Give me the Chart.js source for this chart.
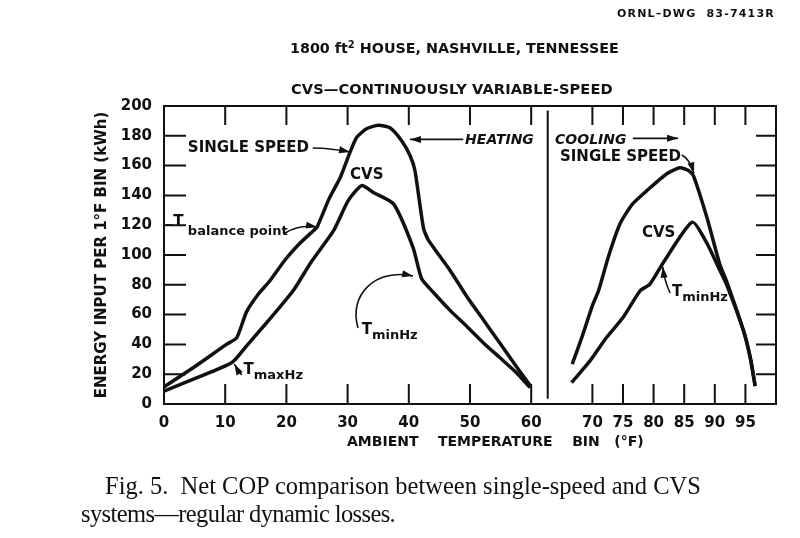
<!DOCTYPE html>
<html>
<head>
<meta charset="utf-8">
<script src="https://cdn.jsdelivr.net/npm/chart.js@4.4.0/dist/chart.umd.min.js"></script>
<style>
  html, body { margin: 0; padding: 0; background: #fff; }
  #wrap { position: relative; width: 800px; height: 538px; overflow: hidden; }
  canvas { position: absolute; left: 0; top: 0; }
  .t { position: absolute; white-space: nowrap; color: #111; }
  .sans { font-family: "DejaVu Sans", sans-serif; font-weight: bold; }
  .serif { font-family: "Liberation Serif", serif; font-size: 24.5px; line-height: 28px; }
  sup { font-size: 70%; line-height: 0; vertical-align: 0.55em; }
</style>
</head>
<body>
<div id="wrap">
  <canvas id="chart" width="800" height="538"></canvas>
  <div class="t sans" style="right:25px; top:7px; font-size:11px; line-height:14px; letter-spacing:1.2px">ORNL–DWG&nbsp;&nbsp;83-7413R</div>
  <div class="t sans" style="left:290px; top:38px; font-size:14.3px; line-height:20px">1800 ft<sup>2</sup> HOUSE, NASHVILLE, TENNESSEE</div>
  <div class="t sans" style="left:291px; top:79px; font-size:14.6px; line-height:20px; letter-spacing:0.1px">CVS—CONTINUOUSLY VARIABLE-SPEED</div>
  <div class="t serif" style="left:105px; top:472px">Fig. 5.&nbsp;&nbsp;Net COP comparison between single-speed and CVS</div>
  <div class="t serif" style="left:81px; top:500px; letter-spacing:-0.6px">systems—regular dynamic losses.</div>
</div>
<script>
// tick labels along the axes
const xTickValues = [0, 10, 20, 30, 40, 50, 60, 70, 75, 80, 85, 90, 95];
const yTickValues = [0, 20, 40, 60, 80, 100, 120, 140, 160, 180, 200];

// heating season, single speed unit
const heatSingleTemp = [0, 5, 10.2, 11.9, 13.5, 15.4, 17.3, 19.8, 22, 24.4, 25, 27, 28.8, 30.4, 31.5, 33.1, 35, 36.9, 38.8, 40.2, 41, 42.4, 43.2, 46.7, 49.5, 52.2, 54.9, 57.6, 59.8];
const heatSingleEnergy = [11.5, 25, 40, 44.6, 62, 73.7, 82.7, 96.8, 107, 116.3, 118.6, 138, 152, 169, 179, 184.7, 187, 185.4, 176.9, 166.8, 156.7, 118, 110, 90, 72, 56.4, 40.7, 25, 12.5];

// heating season, CVS unit
const heatCvsTemp = [0, 5, 11.1, 13.5, 16.8, 21.1, 24, 27.7, 30.1, 32.3, 34.2, 37.5, 40.7, 42.1, 44, 46.7, 49.5, 52.2, 54.9, 57.6, 59.8];
const heatCvsEnergy = [8.7, 17, 27.8, 39, 54.7, 76, 95, 116.3, 136.5, 146.6, 142, 134.3, 105, 84, 75, 63, 52, 41, 31, 21, 11];

// cooling season, single speed unit
const coolSingleTemp = [66.7, 68.3, 70, 71, 72.7, 74.5, 76.5, 78.9, 82.1, 84.3, 85.7, 86.5, 88.7, 90.8, 91.9, 94.7, 95.8, 96.6];
const coolSingleEnergy = [26.7, 45, 66, 76, 100, 120.8, 134, 143.2, 154.4, 158.5, 156.7, 153.3, 125.3, 94, 82.7, 49, 31, 12];

// cooling season, CVS unit
const coolCvsTemp = [66.6, 69.6, 72.3, 75, 77.8, 79.4, 81.6, 86.3, 88.7, 90.8, 91.9, 94.7, 95.8, 96.6];
const coolCvsEnergy = [14.3, 28.9, 44.6, 58, 76, 80.5, 95, 122, 108, 90, 80.5, 49, 31, 12];

const ink = '#111';
const pairs = (xs, ys) => xs.map((x, i) => ({ x: x, y: ys[i] }));
const curve = (label, xs, ys) => ({
  label: label,
  data: pairs(xs, ys),
  borderColor: ink,
  borderWidth: 3.5,
  pointRadius: 0,
  tension: 0.2,
  fill: false
});

// labels and leaders drawn on the plot, placed in data units
const notes = [
  { text: 'SINGLE SPEED', x: 3.9, y: 171.8, size: 15 },
  { text: 'CVS', x: 30.4, y: 153.7, size: 15 },
  { text: 'HEATING', x: 49.2, y: 176.7, size: 14, italic: true },
  { text: 'COOLING', x: 63.9, y: 176.7, size: 14, italic: true },
  { text: 'SINGLE SPEED', x: 64.7, y: 166, size: 15 },
  { text: 'CVS', x: 78.1, y: 115, size: 15 }
];
const subNotes = [
  { main: 'T', sub: 'minHz', x: 83.0, y: 75.4 },
  { main: 'T', sub: 'minHz', x: 32.3, y: 49.7 },
  { main: 'T', sub: 'maxHz', x: 13.0, y: 22.8 },
  { main: 'T', sub: 'balance point', x: 1.5, y: 122.1, subX: 3.9, subY: 115.6 }
];
const arrows = [
  { pts: [[24.3, 171.8], [27.5, 171.6], [30.4, 169.1]] },
  { pts: [[48.9, 177.6], [44.5, 177.6], [40.2, 177.6]] },
  { pts: [[76.6, 178.3], [80.3, 178.3], [84.0, 178.3]] },
  { pts: [[84.6, 167.1], [85.9, 164.5], [86.6, 154.8]] },
  { pts: [[82.7, 74.5], [81.8, 82], [81.5, 92.1]] },
  { pts: [[31.7, 51], [30.1, 73.2], [34.5, 91.3], [40.7, 85.9]] },
  { pts: [[12.7, 19.5], [12.0, 23], [11.5, 26.8]] },
  { pts: [[19.8, 114.8], [22.2, 120.8], [25.0, 118.8]] },
  { pts: [[0.3, 120.1], [0.9, 120.1], [1.45, 120.1]], head: false }
];
const dividerTemp = 62.7;
const xTitle = 'AMBIENT    TEMPERATURE    BIN   (°F)';

const framePlugin = {
  id: 'frame',
  afterDatasetsDraw(chart) {
    const { ctx, chartArea: a, scales: { x, y } } = chart;
    const X = v => x.getPixelForValue(v);
    const Y = v => y.getPixelForValue(v);
    ctx.save();
    ctx.strokeStyle = ink;
    ctx.fillStyle = ink;
    ctx.lineWidth = 2;
    ctx.lineCap = 'butt';
    ctx.strokeRect(a.left, a.top, a.right - a.left, a.bottom - a.top);

    // inward tick marks on all four sides
    ctx.beginPath();
    xTickValues.filter(v => v > 0).forEach(v => {
      ctx.moveTo(X(v), a.bottom); ctx.lineTo(X(v), a.bottom - 20);
      ctx.moveTo(X(v), a.top); ctx.lineTo(X(v), a.top + 19);
    });
    yTickValues.filter(v => v > 0 && v < 200).forEach(v => {
      ctx.moveTo(a.left, Y(v)); ctx.lineTo(a.left + 22, Y(v));
      ctx.moveTo(a.right, Y(v)); ctx.lineTo(a.right - 20, Y(v));
    });
    ctx.stroke();

    // split between heating and cooling
    ctx.beginPath();
    ctx.moveTo(X(dividerTemp), Y(197));
    ctx.lineTo(X(dividerTemp), Y(3.5));
    ctx.stroke();

    // leaders
    ctx.lineWidth = 1.6;
    arrows.forEach(ar => {
      const p = ar.pts.map(q => [X(q[0]), Y(q[1])]);
      ctx.beginPath();
      ctx.moveTo(p[0][0], p[0][1]);
      if (p.length === 4) ctx.bezierCurveTo(p[1][0], p[1][1], p[2][0], p[2][1], p[3][0], p[3][1]);
      else ctx.quadraticCurveTo(p[1][0], p[1][1], p[2][0], p[2][1]);
      ctx.stroke();
      if (ar.head === false) return;
      const e = p[p.length - 1], b = p[p.length - 2];
      const ang = Math.atan2(e[1] - b[1], e[0] - b[0]);
      ctx.beginPath();
      ctx.moveTo(e[0], e[1]);
      ctx.lineTo(e[0] - 11 * Math.cos(ang) + 3.5 * Math.sin(ang), e[1] - 11 * Math.sin(ang) - 3.5 * Math.cos(ang));
      ctx.lineTo(e[0] - 11 * Math.cos(ang) - 3.5 * Math.sin(ang), e[1] - 11 * Math.sin(ang) + 3.5 * Math.cos(ang));
      ctx.closePath();
      ctx.fill();
    });

    // text labels
    ctx.textAlign = 'left';
    ctx.textBaseline = 'middle';
    notes.forEach(n => {
      ctx.font = (n.italic ? 'italic ' : '') + 'bold ' + n.size + 'px "DejaVu Sans", sans-serif';
      ctx.fillText(n.text, X(n.x), Y(n.y));
    });
    subNotes.forEach(n => {
      ctx.font = 'bold 15px "DejaVu Sans", sans-serif';
      ctx.fillText(n.main, X(n.x), Y(n.y));
      const w = ctx.measureText(n.main).width;
      ctx.font = 'bold 13px "DejaVu Sans", sans-serif';
      const sx = n.subX !== undefined ? X(n.subX) : X(n.x) + w;
      const sy = n.subY !== undefined ? Y(n.subY) : Y(n.y) + 6;
      ctx.fillText(n.sub, sx, sy);
    });

    // x axis title sits right of centre in the original
    ctx.font = 'bold 14px "DejaVu Sans", sans-serif';
    ctx.fillText(xTitle, a.left + 183, a.bottom + 38);
    ctx.restore();
  }
};

const tickFont = { family: '"DejaVu Sans", sans-serif', weight: 'bold', size: 15 };
const titleFont = { family: '"DejaVu Sans", sans-serif', weight: 'bold', size: 15 };

new Chart(document.getElementById('chart'), {
  type: 'line',
  data: {
    datasets: [
      curve('Heating, single speed', heatSingleTemp, heatSingleEnergy),
      curve('Heating, CVS', heatCvsTemp, heatCvsEnergy),
      curve('Cooling, single speed', coolSingleTemp, coolSingleEnergy),
      curve('Cooling, CVS', coolCvsTemp, coolCvsEnergy)
    ]
  },
  options: {
    responsive: false,
    animation: false,
    devicePixelRatio: 1,
    layout: { padding: { left: 0, right: 24, top: 106, bottom: 0 } },
    plugins: { legend: { display: false }, tooltip: { enabled: false } },
    scales: {
      x: {
        type: 'linear',
        min: 0,
        max: 100,
        afterBuildTicks: axis => { axis.ticks = xTickValues.map(v => ({ value: v })); },
        afterFit: axis => { axis.height = 134; },
        grid: { display: false, drawTicks: false },
        border: { display: false },
        ticks: { color: ink, font: tickFont, padding: 10, maxRotation: 0, autoSkip: false }
      },
      y: {
        min: 0,
        max: 200,
        afterBuildTicks: axis => { axis.ticks = yTickValues.map(v => ({ value: v })); },
        afterFit: axis => { axis.width = 164; },
        grid: { display: false, drawTicks: false },
        border: { display: false },
        ticks: { color: ink, font: tickFont, padding: 12 },
        title: {
          display: true,
          text: 'ENERGY INPUT PER 1°F BIN (kWh)',
          color: ink,
          font: titleFont,
          padding: { top: 93, bottom: 0 }
        }
      }
    }
  },
  plugins: [framePlugin]
});
</script>
</body>
</html>
